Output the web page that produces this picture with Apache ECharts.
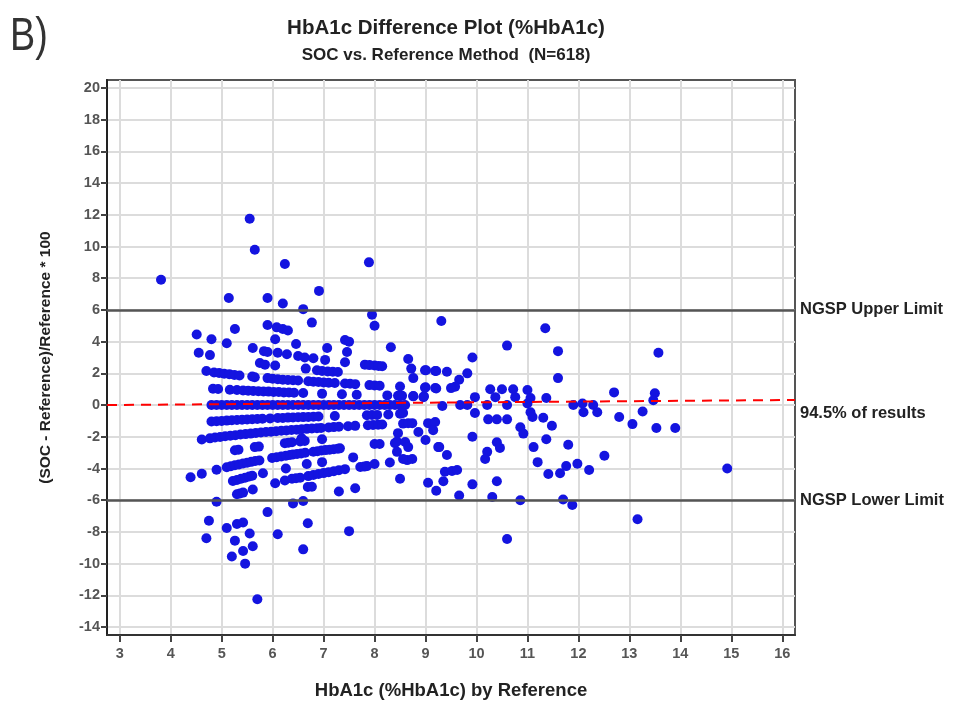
<!DOCTYPE html>
<html><head><meta charset="utf-8">
<script src="https://cdn.jsdelivr.net/npm/echarts@6/dist/echarts.min.js"></script>
<style>html,body{margin:0;padding:0;background:#fff}#c{width:955px;height:705px}</style>
</head><body><div id="c"></div>
<script>
const FONT = "'Liberation Sans Narrow','Arial Narrow','Liberation Sans',Arial,sans-serif";
const panelLabel = 'B)';
const titleText = 'HbA1c Difference Plot (%HbA1c)';
const subtitleText = 'SOC vs. Reference Method  (N=618)';
const xName = 'HbA1c (%HbA1c) by Reference';
const yName = '(SOC - Reference)/Reference * 100';
const xRange = [2.75, 16.25];
const yRange = [-14.5, 20.5];
const xTicks = [3,4,5,6,7,8,9,10,11,12,13,14,15,16];
const yTicks = [-14,-12,-10,-8,-6,-4,-2,0,2,4,6,8,10,12,14,16,18,20];
const upperLimit = 6, lowerLimit = -6;
const upperLabel = 'NGSP Upper Limit', lowerLabel = 'NGSP Lower Limit';
const meanLine = [[2.75, 0.0], [16.25, 0.32]];
const meanLabel = '94.5% of results';

const upperPoints = [[3.81,7.9],[5.55,11.75],[5.65,9.8],[6.24,8.9],[7.89,9.0],[5.14,6.75],[5.9,6.75],[6.2,6.4],[6.91,7.2],[6.6,6.05],[6.77,5.2],[5.9,5.05],[6.08,4.9],[6.2,4.8],[6.3,4.7],[7.95,5.7],[8.0,5.0],[4.51,4.45],[4.8,4.15],[5.26,4.8],[5.1,3.9],[6.05,4.15],[6.46,3.85],[4.55,3.3],[4.77,3.15],[5.61,3.6],[5.83,3.4],[5.9,3.35],[6.1,3.3],[6.28,3.2],[6.5,3.1],[6.63,3.0],[6.8,2.95],[7.07,3.6],[7.03,2.85],[7.42,4.1],[7.5,4.0],[7.46,3.35],[7.42,2.7],[8.32,3.65],[5.75,2.65],[5.85,2.55],[6.05,2.5],[6.65,2.3],[6.87,2.2],[6.97,2.15],[7.08,2.12],[7.18,2.1],[7.28,2.08],[7.81,2.55],[7.9,2.52],[8.0,2.5],[8.08,2.47],[8.15,2.45],[8.66,2.9],[8.72,2.3],[8.76,1.7],[8.99,2.2],[9.19,2.15],[4.7,2.15],[5.65,1.75]];
const bandPlus2 = [[4.85,2.05],[4.95,2.02],[5.05,1.98],[5.15,1.95],[5.25,1.9],[5.35,1.87],[5.6,1.8],[5.9,1.7],[6.0,1.66],[6.1,1.63],[6.2,1.6],[6.3,1.58],[6.4,1.56],[6.5,1.55],[6.7,1.5],[6.8,1.47],[6.9,1.45],[7.0,1.43],[7.1,1.41],[7.22,1.39],[7.42,1.36],[7.52,1.34],[7.62,1.32],[7.9,1.26],[8.0,1.24],[8.1,1.22],[8.5,1.17],[9.0,1.12],[9.19,1.08]];
const bandPlus1 = [[4.83,1.03],[4.93,1.01],[5.16,0.97],[5.3,0.95],[5.42,0.92],[5.52,0.91],[5.62,0.89],[5.72,0.87],[5.82,0.86],[5.92,0.85],[6.02,0.83],[6.12,0.82],[6.22,0.8],[6.32,0.79],[6.42,0.78],[6.6,0.76],[6.97,0.72],[7.36,0.68],[7.65,0.65],[8.25,0.61],[8.46,0.59],[8.54,0.58],[8.76,0.57],[8.97,0.56]];
const bandZero = [[4.8,0],[4.9,0],[5.0,0],[5.1,0],[5.2,0],[5.3,0],[5.4,0],[5.5,0],[5.6,0],[5.7,0],[5.8,0],[5.9,0],[6.0,0],[6.1,0],[6.2,0],[6.3,0],[6.4,0],[6.5,0],[6.6,0],[6.7,0],[6.8,0],[6.9,0],[7.0,0],[7.1,0],[7.2,0],[7.3,0],[7.4,0],[7.5,0],[7.6,0],[7.7,0],[7.8,0],[7.9,0],[8.0,0],[8.1,0],[8.2,0],[8.3,0],[8.4,0],[8.5,0],[8.6,0]];
const bandMinus1 = [[4.8,-1.04],[4.9,-1.02],[5.0,-1.0],[5.1,-0.98],[5.2,-0.96],[5.3,-0.94],[5.4,-0.93],[5.5,-0.91],[5.6,-0.89],[5.7,-0.88],[5.8,-0.86],[5.95,-0.84],[6.1,-0.82],[6.2,-0.81],[6.3,-0.79],[6.4,-0.78],[6.5,-0.77],[6.6,-0.76],[6.7,-0.75],[6.8,-0.74],[6.9,-0.72],[7.22,-0.69],[7.85,-0.64],[7.95,-0.63],[8.05,-0.62],[8.27,-0.6],[8.5,-0.55],[8.56,-0.5]];
const bandMinus2 = [[4.61,-2.17],[4.77,-2.1],[4.87,-2.05],[4.97,-2.01],[5.07,-1.97],[5.17,-1.93],[5.27,-1.9],[5.37,-1.86],[5.47,-1.83],[5.57,-1.8],[5.67,-1.76],[5.77,-1.73],[5.87,-1.7],[5.97,-1.68],[6.07,-1.65],[6.17,-1.62],[6.27,-1.6],[6.37,-1.57],[6.47,-1.55],[6.57,-1.52],[6.67,-1.5],[6.77,-1.48],[6.87,-1.46],[6.95,-1.44],[7.1,-1.41],[7.2,-1.39],[7.3,-1.37],[7.48,-1.34],[7.62,-1.31],[7.87,-1.27],[7.97,-1.25],[8.07,-1.24],[8.15,-1.23],[8.56,-1.17],[8.66,-1.15],[8.74,-1.14],[8.46,-1.77],[8.86,-1.7],[9.0,-2.2]];
const bandMinus3 = [[5.26,-2.85],[5.33,-2.82],[5.65,-2.65],[5.73,-2.62],[6.24,-2.4],[6.31,-2.38],[6.38,-2.35],[6.54,-2.29],[6.63,-2.26],[6.57,-2.1],[6.97,-2.15],[8.0,-2.45],[8.1,-2.45],[8.4,-2.4],[8.44,-2.3],[8.6,-2.33],[8.66,-2.65],[8.44,-2.95],[9.25,-2.65]];
const bandMinus4 = [[5.1,-3.92],[5.18,-3.86],[5.26,-3.8],[5.34,-3.75],[5.42,-3.69],[5.5,-3.64],[5.58,-3.58],[5.66,-3.53],[5.74,-3.49],[5.99,-3.34],[6.08,-3.29],[6.17,-3.24],[6.26,-3.2],[6.34,-3.15],[6.4,-3.12],[6.48,-3.09],[6.56,-3.05],[6.64,-3.01],[6.8,-2.94],[6.88,-2.91],[6.96,-2.87],[7.04,-2.84],[7.12,-2.81],[7.2,-2.78],[7.28,-2.75],[7.32,-2.73],[7.58,-3.3]];
const bandMinus5 = [[4.39,-4.55],[4.61,-4.33],[4.9,-4.08],[5.22,-4.79],[5.3,-4.72],[5.38,-4.65],[5.46,-4.58],[5.54,-4.51],[5.6,-4.46],[5.81,-4.3],[6.26,-4.0],[6.67,-3.72],[6.97,-3.6],[6.05,-4.93],[6.24,-4.76],[6.38,-4.65],[6.46,-4.62],[6.54,-4.58],[6.7,-4.48],[6.8,-4.41],[6.9,-4.35],[7.0,-4.29],[7.1,-4.23],[7.2,-4.17],[7.3,-4.11],[7.42,-4.04],[7.72,-3.9],[7.8,-3.88],[7.85,-3.85],[8.0,-3.72],[8.3,-3.62],[8.64,-3.47],[8.74,-3.4],[8.56,-3.4],[8.5,-4.65]];
const bandMinus6 = [[5.3,-5.62],[5.36,-5.57],[5.42,-5.52],[5.61,-5.32],[6.69,-5.17],[6.77,-5.15],[7.3,-5.45],[7.62,-5.25],[4.9,-6.1],[6.4,-6.2],[6.6,-6.05]];
const lowerPoints = [[5.9,-6.75],[4.75,-7.3],[5.1,-7.75],[5.3,-7.5],[5.42,-7.4],[4.7,-8.4],[5.26,-8.55],[5.55,-8.1],[6.1,-8.15],[6.69,-7.45],[7.5,-7.95],[5.2,-9.55],[5.42,-9.2],[5.61,-8.9],[5.46,-10.0],[6.6,-9.1],[5.7,-12.25]];
const rightPoints = [[9.31,5.3],[11.35,4.85],[10.6,3.75],[11.6,3.4],[13.57,3.3],[9.01,2.2],[9.21,2.15],[9.42,2.1],[9.92,3.0],[9.82,2.0],[9.66,1.6],[9.58,1.15],[9.5,1.07],[8.99,1.1],[9.21,1.05],[8.76,0.55],[8.96,0.5],[9.97,0.5],[11.6,1.7],[10.27,1.0],[10.5,1.0],[10.72,1.0],[11.0,0.95],[10.37,0.5],[10.76,0.5],[11.06,0.45],[11.37,0.45],[12.7,0.8],[13.5,0.75],[13.47,0.3],[9.33,-0.06],[9.68,0],[9.82,0],[10.21,0],[10.6,0],[11.0,0.1],[11.9,0],[12.08,0.1],[12.1,-0.45],[12.29,0],[12.37,-0.45],[9.05,-1.14],[9.19,-1.07],[9.15,-1.58],[9.97,-0.5],[9.92,-2.0],[9.27,-2.65],[9.42,-3.15],[9.38,-4.2],[9.52,-4.15],[9.62,-4.1],[9.35,-4.8],[9.05,-4.9],[9.21,-5.4],[9.66,-5.7],[9.92,-5.0],[10.23,-0.9],[10.4,-0.9],[10.6,-0.9],[10.21,-2.95],[10.4,-2.35],[10.46,-2.7],[10.17,-3.4],[10.4,-4.8],[10.31,-5.8],[10.86,-6.0],[10.6,-8.45],[10.86,-1.4],[10.92,-1.8],[11.06,-0.45],[11.1,-0.75],[11.31,-0.8],[11.48,-1.3],[11.12,-2.65],[11.37,-2.15],[11.2,-3.6],[11.8,-2.5],[11.41,-4.35],[11.64,-4.3],[11.76,-3.85],[11.98,-3.7],[11.7,-5.95],[11.88,-6.3],[12.21,-4.1],[12.51,-3.2],[12.8,-0.75],[13.06,-1.2],[13.26,-0.4],[13.53,-1.45],[13.9,-1.45],[14.92,-4.0],[13.16,-7.2]];

const allPoints = [].concat(upperPoints, bandPlus2, bandPlus1, bandZero, bandMinus1, bandMinus2, bandMinus3, bandMinus4, bandMinus5, bandMinus6, lowerPoints, rightPoints);

const chart = echarts.init(document.getElementById('c'), null, {renderer: 'canvas'});
const labelStyle = {fontFamily: FONT, fontWeight: 'bold', fontSize: 16.5, color: '#222'};
chart.setOption({
  backgroundColor: '#fff',
  animation: false,
  textStyle: {fontFamily: FONT},
  graphic: [
    {type: 'text', x: 10, y: 14, scaleX: 0.82, style: {text: panelLabel, fontFamily: FONT, fontSize: 46, fill: '#333'}},
    {type: 'text', x: 446, y: 28, style: {text: titleText, fontFamily: FONT, fontWeight: 'bold', fontSize: 20.5, fill: '#222', textAlign: 'center', textVerticalAlign: 'middle'}},
    {type: 'text', x: 446, y: 55, style: {text: subtitleText, fontFamily: FONT, fontWeight: 'bold', fontSize: 17, fill: '#222', textAlign: 'center', textVerticalAlign: 'middle'}}
  ],
  grid: {left: 107, right: 160, top: 80, bottom: 70, show: true, borderColor: '#555', borderWidth: 2, backgroundColor: '#fff'},
  xAxis: {
    type: 'value', min: xRange[0], max: xRange[1],
    name: xName, nameLocation: 'middle', nameGap: 46,
    nameTextStyle: {fontFamily: FONT, fontWeight: 'bold', fontSize: 18.5, color: '#222'},
    axisLine: {show: true, onZero: false, lineStyle: {color: '#333', width: 2}},
    axisTick: {show: true, customValues: xTicks, length: 7, lineStyle: {color: '#444', width: 2}},
    axisLabel: {customValues: xTicks, fontFamily: FONT, fontWeight: 'bold', fontSize: 14.5, color: '#555', margin: 11},
    splitLine: {show: true, lineStyle: {color: '#dcdcdc', width: 2}}
  },
  yAxis: {
    type: 'value', min: yRange[0], max: yRange[1],
    name: yName, nameLocation: 'middle', nameGap: 53, nameRotate: 90,
    nameTextStyle: {fontFamily: FONT, fontWeight: 'bold', fontSize: 15.5, color: '#222'},
    axisLine: {show: true, onZero: false, lineStyle: {color: '#222', width: 2}},
    axisTick: {show: true, customValues: yTicks, length: 6, lineStyle: {color: '#444', width: 2}},
    axisLabel: {customValues: yTicks, fontFamily: FONT, fontWeight: 'bold', fontSize: 14.5, color: '#555', margin: 7},
    splitLine: {show: true, lineStyle: {color: '#dcdcdc', width: 2}}
  },
  series: [{
    type: 'scatter',
    data: allPoints,
    symbol: 'circle',
    symbolSize: 10,
    itemStyle: {color: '#1414e0', opacity: 1},
    z: 3,
    markLine: {
      silent: true,
      symbol: ['none', 'none'],
      animation: false,
      z: 4,
      data: [
        {yAxis: upperLimit, lineStyle: {color: '#555', width: 2.5, type: 'solid'}, label: Object.assign({show: true, position: 'end', distance: 5, formatter: upperLabel}, labelStyle)},
        {yAxis: lowerLimit, lineStyle: {color: '#555', width: 2.5, type: 'solid'}, label: Object.assign({show: true, position: 'end', distance: 5, formatter: lowerLabel}, labelStyle)},
        [{coord: meanLine[0], lineStyle: {color: '#ff0000', width: 2, type: [10, 7]}, label: Object.assign({show: true, position: 'end', distance: 5, formatter: '\n' + meanLabel, lineHeight: 26}, labelStyle)}, {coord: meanLine[1]}]
      ]
    }
  }]
});
</script></body></html>
